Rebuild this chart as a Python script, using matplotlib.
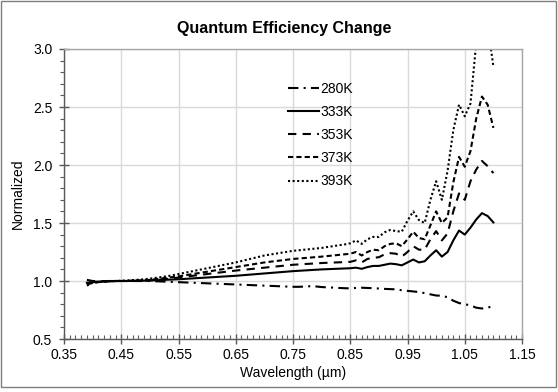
import numpy as np
import matplotlib
matplotlib.use("Agg")
import matplotlib.pyplot as plt
from matplotlib.ticker import MultipleLocator, FixedLocator, FormatStrFormatter
from matplotlib.patches import Rectangle

plt.rcParams['font.family'] = ['Liberation Sans', 'DejaVu Sans']

wavelength = np.round(np.arange(0.39, 1.1001, 0.01), 2)
x_ticks = [0.35, 0.45, 0.55, 0.65, 0.75, 0.85, 0.95, 1.05, 1.15]

k280 = [0.97, 0.99, 0.995, 1.0, 1.0, 1.0, 1.0, 1.0, 1.0, 1.0, 1.0,
        1.0, 0.998, 0.996, 0.994, 0.992, 0.99, 0.988, 0.986, 0.984, 0.982,
        0.98, 0.978, 0.976, 0.974, 0.972, 0.97, 0.968, 0.966, 0.964, 0.962,
        0.96, 0.958, 0.956, 0.954, 0.952, 0.95, 0.95, 0.952, 0.955, 0.953,
        0.948, 0.945, 0.943, 0.94, 0.938, 0.936, 0.94, 0.942, 0.94, 0.938,
        0.935, 0.932, 0.93, 0.928, 0.92, 0.915, 0.91, 0.905, 0.895, 0.885,
        0.875, 0.873, 0.86, 0.83, 0.81, 0.80, 0.79, 0.77, 0.763, 0.77, 0.785]
k333 = [0.985, 0.99, 0.995, 0.997, 0.998, 1.0, 1.0, 1.0, 1.001, 1.002, 1.003,
        1.005, 1.007, 1.009, 1.011, 1.013, 1.015, 1.018, 1.021, 1.024, 1.027,
        1.03, 1.033, 1.036, 1.039, 1.042, 1.045, 1.049, 1.053, 1.057, 1.061,
        1.065, 1.069, 1.073, 1.077, 1.081, 1.085, 1.088, 1.091, 1.094, 1.097,
        1.10, 1.102, 1.104, 1.106, 1.108, 1.11, 1.115, 1.105, 1.12, 1.13,
        1.13, 1.14, 1.15, 1.145, 1.135, 1.16, 1.185, 1.16, 1.17, 1.22,
        1.265, 1.21, 1.25, 1.35, 1.435, 1.40, 1.46, 1.53, 1.585, 1.56, 1.505]
k353 = [1.01, 1.0, 0.998, 0.998, 0.999, 1.0, 1.0, 1.0, 1.001, 1.002, 1.003,
        1.005, 1.009, 1.013, 1.018, 1.024, 1.03, 1.036, 1.042, 1.048, 1.054,
        1.06, 1.066, 1.072, 1.078, 1.084, 1.09, 1.095, 1.1, 1.105, 1.11,
        1.115, 1.12, 1.125, 1.13, 1.135, 1.14, 1.143, 1.146, 1.149, 1.152,
        1.155, 1.157, 1.159, 1.161, 1.163, 1.165, 1.178, 1.16, 1.19, 1.20,
        1.205, 1.23, 1.24, 1.235, 1.21, 1.25, 1.30, 1.27, 1.27, 1.36,
        1.43, 1.35, 1.41, 1.60, 1.755, 1.70, 1.86, 1.96, 2.035, 1.99, 1.93]
k373 = [0.97, 0.985, 0.99, 0.995, 0.997, 1.0, 1.0, 1.001, 1.003, 1.005, 1.007,
        1.01, 1.016, 1.022, 1.028, 1.034, 1.04, 1.048, 1.056, 1.064, 1.072,
        1.08, 1.088, 1.096, 1.104, 1.112, 1.12, 1.128, 1.136, 1.144, 1.152,
        1.16, 1.166, 1.172, 1.178, 1.184, 1.19, 1.194, 1.198, 1.202, 1.206,
        1.21, 1.215, 1.22, 1.225, 1.23, 1.235, 1.25, 1.22, 1.25, 1.27,
        1.265, 1.30, 1.32, 1.325, 1.30, 1.36, 1.425, 1.37, 1.36, 1.48,
        1.60, 1.50, 1.55, 1.85, 2.07, 1.985, 2.12, 2.40, 2.59, 2.52, 2.32]
k393 = [0.96, 0.985, 0.99, 0.995, 0.998, 1.0, 1.002, 1.005, 1.008, 1.011, 1.015,
        1.02, 1.027, 1.034, 1.041, 1.05, 1.06, 1.07, 1.08, 1.09, 1.10,
        1.11, 1.12, 1.13, 1.14, 1.15, 1.16, 1.172, 1.184, 1.196, 1.208,
        1.22, 1.228, 1.236, 1.244, 1.252, 1.26, 1.265, 1.27, 1.275, 1.28,
        1.285, 1.293, 1.30, 1.308, 1.315, 1.325, 1.35, 1.32, 1.36, 1.38,
        1.38, 1.42, 1.44, 1.43, 1.425, 1.52, 1.60, 1.525, 1.50, 1.70,
        1.86, 1.70, 1.95, 2.30, 2.52, 2.42, 2.53, 3.05, 3.3, 3.2, 2.85]

series = [("280K", k280, (0, (5, 2.5, 1, 2.5))),
          ("333K", k333, "-"),
          ("353K", k353, (0, (4, 3))),
          ("373K", k373, (0, (2.5, 1.5))),
          ("393K", k393, (0, (1, 1.2)))]

fig = plt.figure(figsize=(5.58, 3.92), dpi=100)
fig.patch.set_facecolor("white")
fig.add_artist(Rectangle((0.002, 0.012), 0.995, 0.985, transform=fig.transFigure,
                         fill=False, edgecolor="#7f7f7f", linewidth=1.0))

ax = fig.add_axes([0.1147, 0.1352, 0.8208, 0.7398])
for name, vals, ls in series:
    ax.plot(wavelength, vals, color="black", linestyle=ls, linewidth=1.5,
            label=name, dash_capstyle="butt", clip_on=True)

ax.set_xlim(0.35, 1.15)
ax.set_ylim(0.5, 3.0)
ax.xaxis.set_major_locator(FixedLocator(x_ticks))
ax.xaxis.set_minor_locator(MultipleLocator(0.01))
ax.yaxis.set_major_locator(MultipleLocator(0.5))
ax.yaxis.set_minor_locator(MultipleLocator(0.1))
ax.xaxis.set_major_formatter(FormatStrFormatter("%.2f"))
ax.yaxis.set_major_formatter(FormatStrFormatter("%.1f"))
ax.grid(True, which="major", color="#d9d9d9", linewidth=1.0)
ax.set_axisbelow(True)

ax.tick_params(axis="both", which="major", direction="inout", length=7,
               width=1.0, color="#595959", labelsize=10, labelcolor="black")
ax.tick_params(axis="x", which="major", pad=3)
ax.tick_params(axis="y", which="major", pad=5)
ax.tick_params(axis="x", which="minor", direction="in", length=3, width=0.8, color="#595959")
ax.tick_params(axis="y", which="minor", direction="out", length=3, width=0.8, color="#595959")

for side in ["left", "bottom"]:
    ax.spines[side].set_color("#595959")
    ax.spines[side].set_linewidth(1.0)
for side in ["top", "right"]:
    ax.spines[side].set_color("#a6a6a6")
    ax.spines[side].set_linewidth(1.0)

ax.set_xlabel("Wavelength (µm)", fontsize=10, labelpad=3)
ax.set_ylabel("Normalized", fontsize=10, labelpad=6)
fig.text(0.51, 0.927, "Quantum Efficiency Change", ha="center", va="center",
         fontsize=11.5, fontweight="bold")

leg = ax.legend(loc="upper left", bbox_to_anchor=(0.489, 0.887), frameon=False,
                fontsize=10, handlelength=2.2, handletextpad=0.1,
                labelspacing=0.66, borderpad=0, borderaxespad=0)

fig.savefig("out.png", dpi=100)
